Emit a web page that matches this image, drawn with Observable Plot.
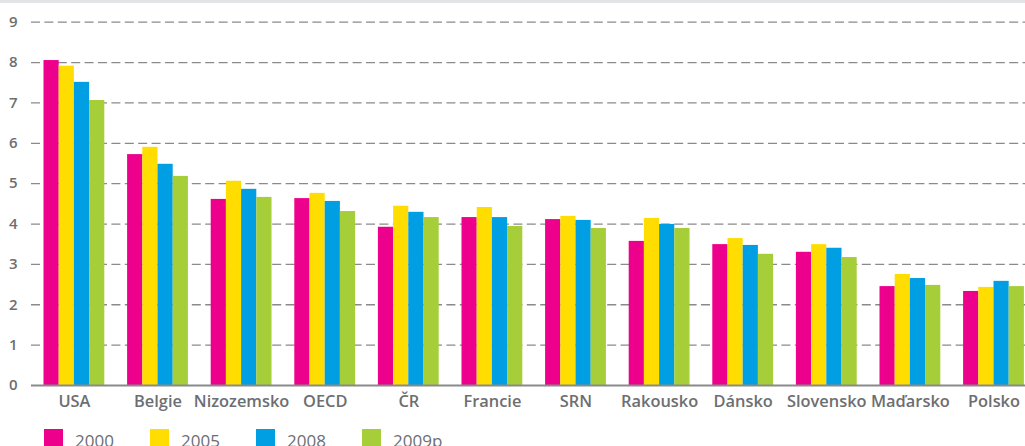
<!DOCTYPE html>
<html><head><meta charset="utf-8">
<script src="https://cdn.jsdelivr.net/npm/d3@7"></script>
<script src="https://cdn.jsdelivr.net/npm/@observablehq/plot@0.6"></script>
<style>
html,body{margin:0;padding:0;background:#fff;}
body{width:1025px;height:446px;overflow:hidden;position:relative;font-family:"Open Sans",sans-serif;}
#topband{position:absolute;left:0;top:0;width:1025px;height:3px;background:#e3e4e5;}
#chart{position:absolute;left:0;top:0;}
#legend{position:absolute;left:44px;top:429px;display:flex;color:#6d6e71;font-size:17px;line-height:19px;}
#legend .item{display:flex;align-items:flex-start;width:106px;}
#legend .sw{width:19px;height:19px;margin-right:12px;flex:none;}
#legend .lab{position:relative;top:2px;}
</style></head><body>
<div id="topband"></div>
<div id="chart"></div>
<div id="legend"></div>
<script>
const countries = ["USA","Belgie","Nizozemsko","OECD","ČR","Francie","SRN","Rakousko","Dánsko","Slovensko","Maďarsko","Polsko"];
const years = ["2000","2005","2008","2009p"];
const v2000  = [8.05,5.72,4.61,4.63,3.92,4.16,4.11,3.57,3.49,3.30,2.45,2.33];
const v2005  = [7.91,5.90,5.06,4.76,4.44,4.41,4.19,4.14,3.64,3.49,2.75,2.43];
const v2008  = [7.51,5.48,4.86,4.56,4.29,4.16,4.09,3.99,3.47,3.40,2.65,2.58];
const v2009p = [7.06,5.18,4.66,4.31,4.16,3.94,3.89,3.89,3.25,3.17,2.48,2.45];
const yTicks = [0,1,2,3,4,5,6,7,8,9];
const colors = ["#EC008C","#FFDD00","#009FE3","#A6CE39"];

const series = [v2000, v2005, v2008, v2009p];
const data = countries.flatMap((c, i) => years.map((y, j) => ({country: c, year: y, value: series[j][i]})));

const barW = 15.2;
const step = 83.6;
const pInner = 1 - barW / step;
const r0 = 66.3;
const r1 = r0 + step * (countries.length - pInner);

const chart = Plot.plot({
  width: 1025,
  height: 420,
  marginLeft: 31,
  marginRight: 0,
  marginTop: 21.7,
  marginBottom: 35,
  style: {fontFamily: "'Open Sans', sans-serif", color: "#6d6e71", background: "transparent"},
  x: {domain: countries, range: [r0, r1], paddingInner: pInner, paddingOuter: 0, round: false, axis: null},
  y: {domain: [0, 9], axis: null},
  marks: [
    Plot.ruleY(yTicks.filter(t => t > 0), {stroke: "#8a8a8a", strokeWidth: 1.3, strokeDasharray: "9,4.4"}),
    ...years.map((yr, j) => Plot.barY(data.filter(d => d.year === yr), {
      x: "country", y: "value", fill: colors[j], dx: (j - 1.5) * barW
    })),
    Plot.ruleY([0], {stroke: "#8a8a8a", strokeWidth: 2}),
    Plot.axisY(yTicks, {tickSize: 0, tickPadding: 14, fontSize: 15, fontWeight: 600, label: null}),
    Plot.axisX({tickSize: 0, tickPadding: 9.5, fontSize: 16.4, fontWeight: 600, label: null})
  ]
});
document.getElementById("chart").appendChild(chart);

const leg = document.getElementById("legend");
years.forEach((y, j) => {
  const it = document.createElement("div");
  it.className = "item";
  const sw = document.createElement("div");
  sw.className = "sw";
  sw.style.background = colors[j];
  const lab = document.createElement("span");
  lab.className = "lab";
  lab.textContent = y;
  it.appendChild(sw); it.appendChild(lab);
  leg.appendChild(it);
});
</script>
</body></html>
